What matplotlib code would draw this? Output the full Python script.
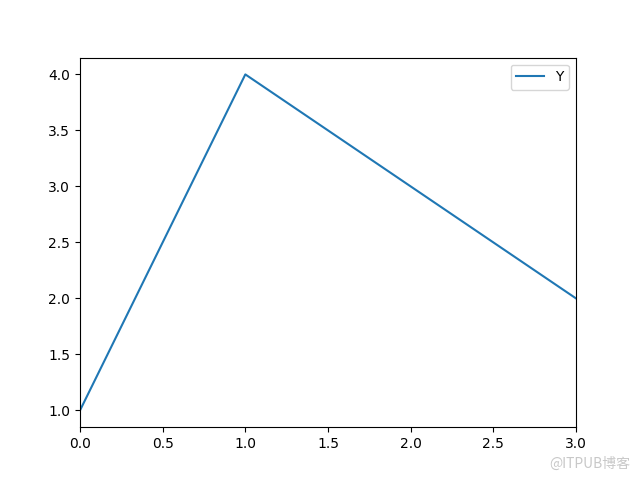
import matplotlib
matplotlib.use("Agg")
import matplotlib.pyplot as plt

x_values = [0, 1, 2, 3]
y_values = [1, 4, 3, 2]
series_name = "Y"

fig, ax = plt.subplots(figsize=(6.4, 4.8), dpi=100)
ax.plot(x_values, y_values, color="#1f77b4", label=series_name)
ax.set_xlim(0, 3)
ax.legend(loc="upper right")
fig.text(0.985, 0.02, "@ITPUB博客", ha="right", va="bottom", color="#c8c8c8",
         fontsize=10, family=["Noto Sans CJK SC", "DejaVu Sans"])
fig.savefig("out.png", dpi=100)
